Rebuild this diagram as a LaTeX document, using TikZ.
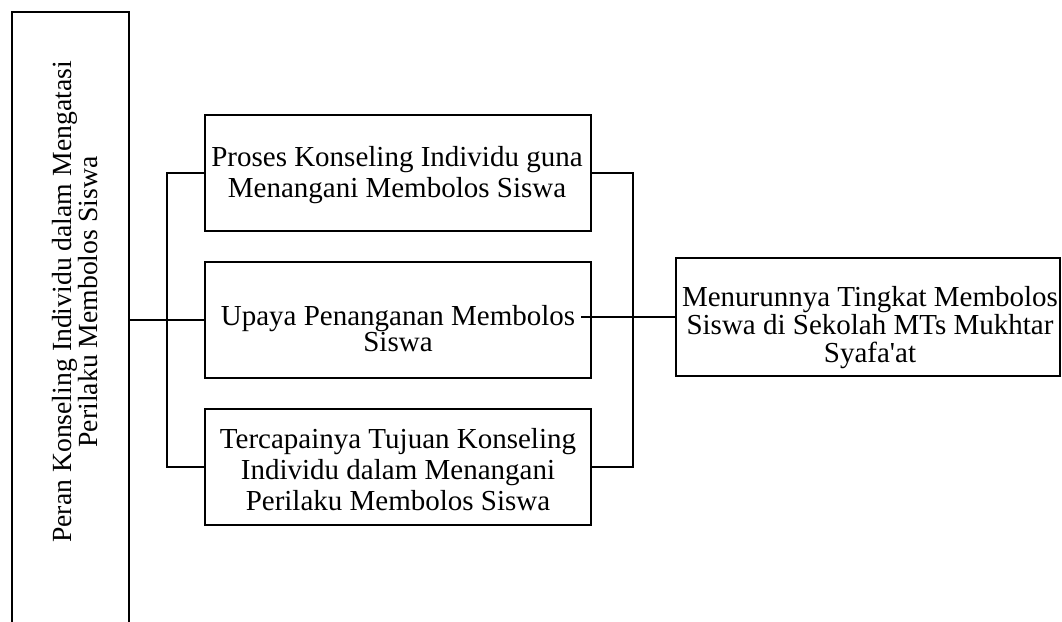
\documentclass[tikz,border=0pt]{standalone}
\usepackage{fontspec}
\setmainfont{Liberation Serif}
\begin{document}
\begin{tikzpicture}[x=1pt,y=-1pt,
  frame/.style={draw=black, line width=2.4pt, inner sep=0pt},
  label/.style={align=center, inner sep=0pt, font=\fontsize{29}{31}\selectfont},
  conn/.style={draw=black, line width=2.4pt}]
\useasboundingbox (0,0) rectangle (1062,621);
\fill[white] (0,0) rectangle (1062,621);
% left tall box (open at the bottom of the page)
\begin{scope}
\clip (0,0) rectangle (1062,621);
\node[frame, minimum width=117, minimum height=640] (L) at (70.5,332) {};
\end{scope}
\node[label, rotate=90, font=\fontsize{27.7}{24}\selectfont] (Lt) at (75,302)
  {Peran Konseling Individu dalam Mengatasi\\Perilaku Membolos Siswa};
% middle boxes
\node[frame, minimum width=386, minimum height=116] (B1) at (398,173) {};
\node[label] (B1t) at (397,175.5) {Proses Konseling Individu guna\\Menangani Membolos Siswa};
\node[frame, minimum width=386, minimum height=116] (B2) at (398,320) {};
\node[label, font=\fontsize{29}{22}\selectfont] (B2t) at (398,328.5) {Upaya Penanganan Membolos\\Siswa};
\node[frame, minimum width=386, minimum height=116] (B3) at (398,467) {};
\node[label] (B3t) at (398,469.5) {Tercapainya Tujuan Konseling\\Individu dalam Menangani\\Perilaku Membolos Siswa};
% right box
\node[frame, line width=2.8pt, minimum width=384, minimum height=118] (B4) at (868,317) {};
\node[label, font=\fontsize{29}{28}\selectfont] (B4t) at (870,328) {Menurunnya Tingkat Membolos\\Siswa di Sekolah MTs Mukhtar\\Syafa\textquotesingle at};
% connectors
\coordinate (jl) at (167,320);
\coordinate (jr) at (633,317);
\coordinate (s2) at (581,317);
\draw[conn] (L.east |- jl) -- (jl) -- (B2.west);
\draw[conn] (B1.west) -- (B1.west -| jl) -- (B3.west -| jl) -- (B3.west);
\draw[conn] (B1.east) -- (B1.east -| jr) -- (B3.east -| jr) -- (B3.east);
\draw[conn] (s2) -- (jr) -- (B4.west);
\end{tikzpicture}
\end{document}
